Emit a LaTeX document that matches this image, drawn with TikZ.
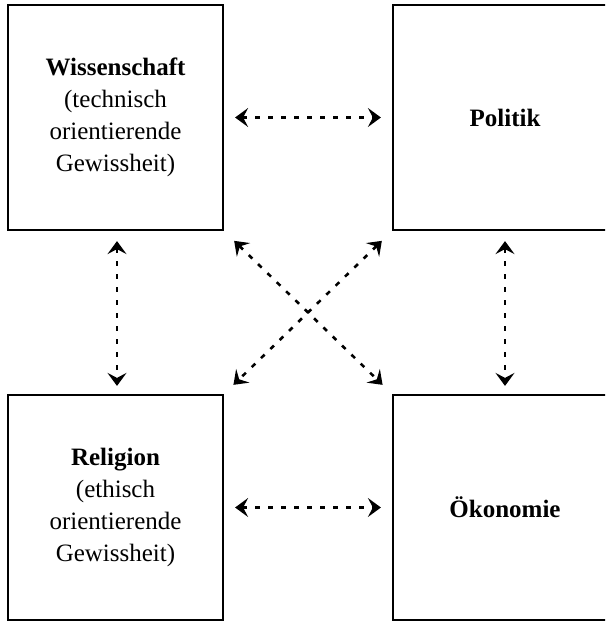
\documentclass[tikz,border=0pt]{standalone}
\usepackage{fontspec}
\setmainfont{Liberation Serif}
\usetikzlibrary{arrows.meta}

\begin{document}
\begin{tikzpicture}[x=1pt,y=-1pt,
  feld/.style={draw,line width=2.2pt,minimum width=215pt,minimum height=225pt,
    inner sep=0pt,align=center,font=\fontsize{25}{32}\selectfont},
  bezug/.style={line width=2.6pt,dash pattern=on 5pt off 8pt,
    {Stealth[length=13pt,width=19pt,inset=5pt]}-{Stealth[length=13pt,width=19pt,inset=5pt]}}]
\useasboundingbox (0,0) rectangle (605,623);
\clip (0,0) rectangle (605,623);

% Boxes
\node[feld] (wiss) at (115.5,117.5) {\textbf{Wissenschaft}\\(technisch\\orientierende\\Gewissheit)};
\node[feld,minimum width=224pt] (pol) at (505,117.5) {\textbf{Politik}};
\node[feld] (rel) at (115.5,507.5) {\textbf{Religion}\\(ethisch\\orientierende\\Gewissheit)};
\node[feld,minimum width=224pt] (oek) at (505,507.5) {\textbf{Ökonomie}};

% Relations
\draw[bezug,shorten <=11pt,shorten >=11pt] (wiss.east) -- (pol.west);
\draw[bezug,shorten <=11pt,shorten >=11pt] (rel.east) -- (oek.west);
\draw[bezug,shorten <=10pt,shorten >=8pt] (wiss.south -| 117,0) -- (rel.north -| 117,0);
\draw[bezug,shorten <=10pt,shorten >=8pt] (pol.south) -- (oek.north);
\draw[bezug,shorten <=14pt,shorten >=13pt] (wiss.south east) -- (oek.north west);
\draw[bezug,shorten <=14pt,shorten >=13pt] (pol.south west) -- (rel.north east);

\end{tikzpicture}
\end{document}
